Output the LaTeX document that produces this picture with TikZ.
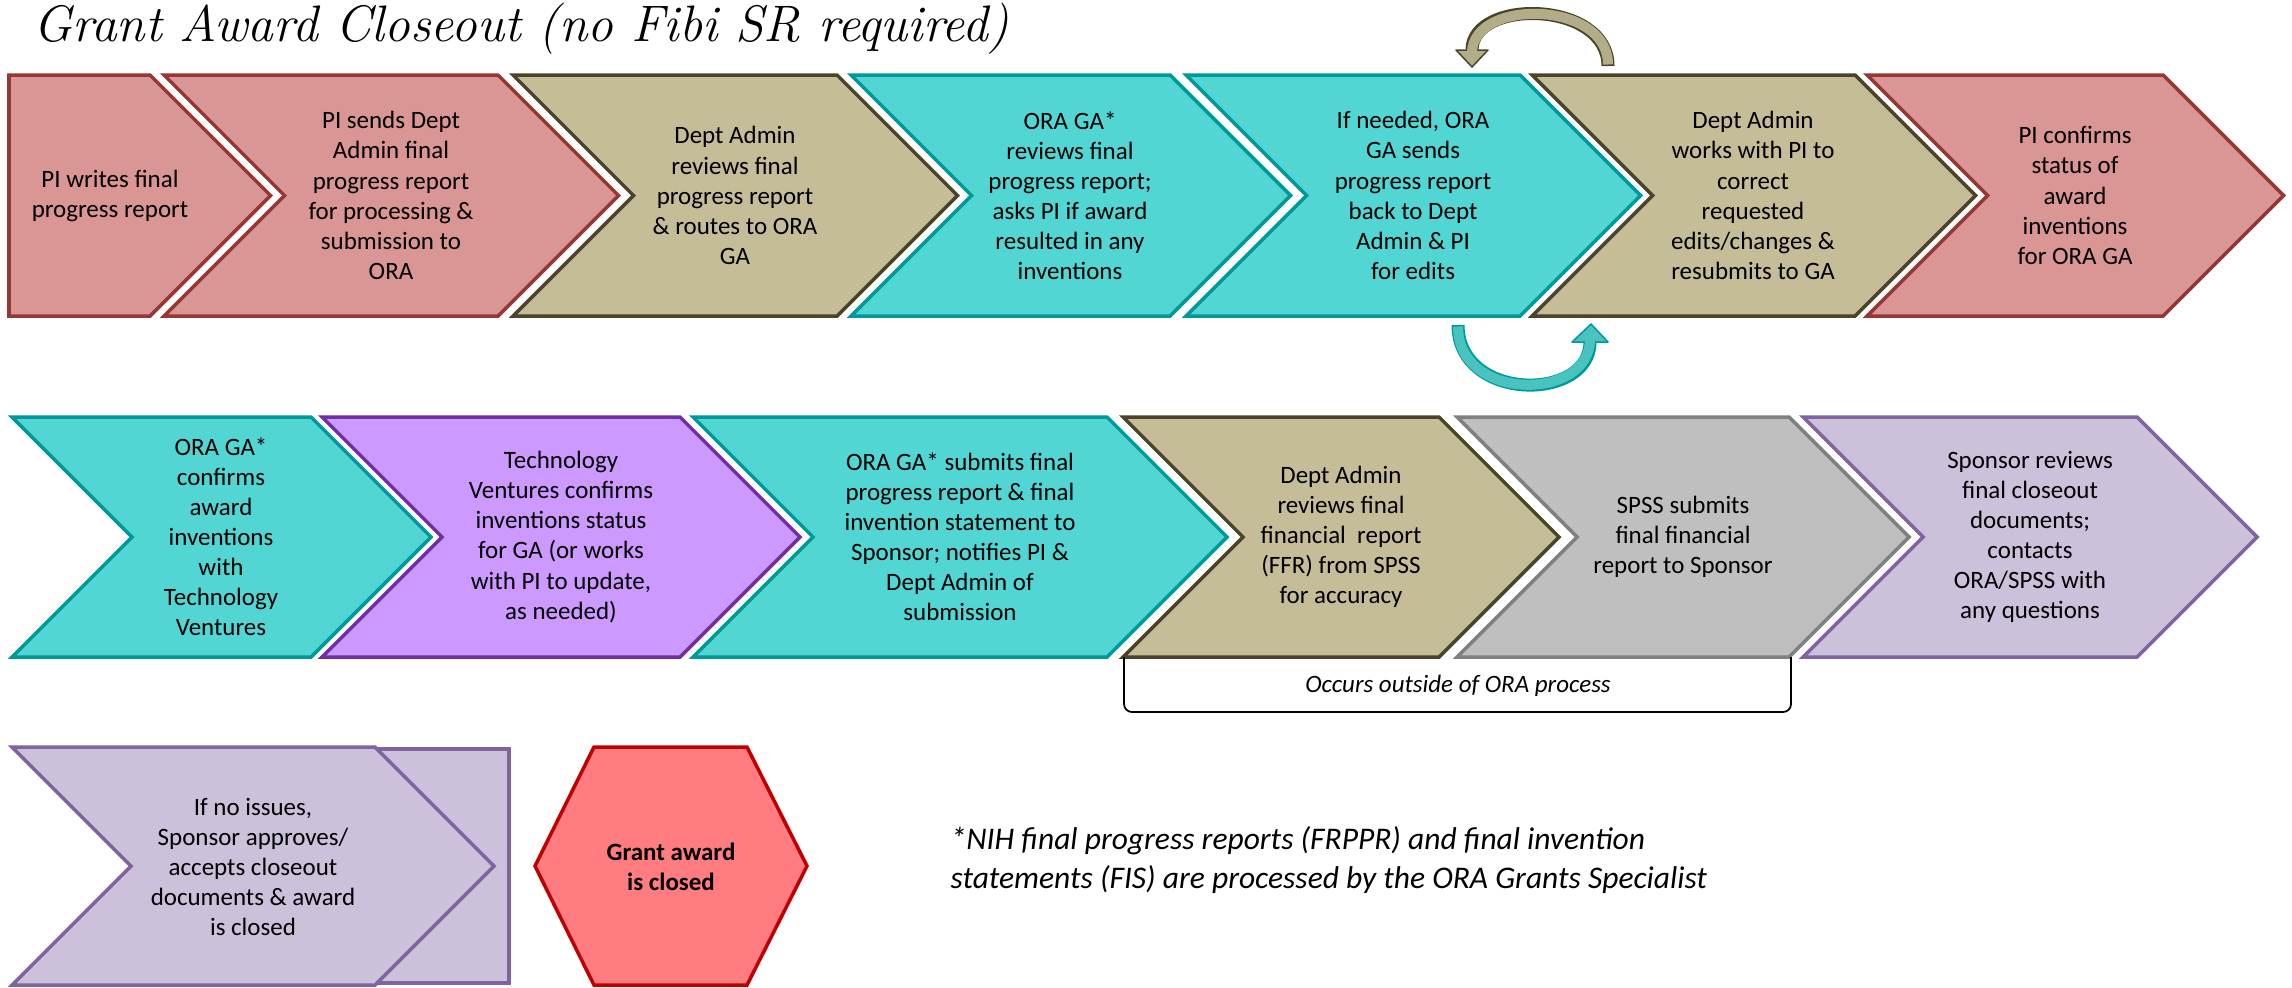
\documentclass[tikz,border=0pt]{standalone}
\usepackage{fontspec}
\newfontfamily\bodyfont{Carlito}
\usepackage{tikz}
\usetikzlibrary{arrows.meta}

\definecolor{pinkfill}{HTML}{D99694}
\definecolor{pinkline}{HTML}{953735}
\definecolor{tanfill}{HTML}{C4BD97}
\definecolor{tanline}{HTML}{4A452A}
\definecolor{tanloop}{HTML}{B3AC88}
\definecolor{tealfill}{HTML}{52D6D3}
\definecolor{tealline}{HTML}{009999}
\definecolor{tealloop}{HTML}{48C3BF}
\definecolor{violetfill}{HTML}{CC99FF}
\definecolor{violetline}{HTML}{7030A0}
\definecolor{greyfill}{HTML}{BFBFBF}
\definecolor{greyline}{HTML}{808080}
\definecolor{lavfill}{HTML}{CCC1DA}
\definecolor{lavline}{HTML}{8064A2}
\definecolor{hexfill}{HTML}{FF7C80}
\definecolor{hexline}{HTML}{C00000}

\tikzset{
  chevtext/.style={align=center, inner sep=0pt, font=\bodyfont\fontsize{7.1}{8.55}\selectfont},
  pinkchev/.style={fill=pinkfill, draw=pinkline, line width=1pt},
  tanchev/.style={fill=tanfill, draw=tanline, line width=1pt},
  tealchev/.style={fill=tealfill, draw=tealline, line width=1pt},
  violetchev/.style={fill=violetfill, draw=violetline, line width=1pt},
  greychev/.style={fill=greyfill, draw=greyline, line width=1pt},
  lavchev/.style={fill=lavfill, draw=lavline, line width=1pt},
  loopout/.style={line width=1.3mm},
  loopin/.style={line width=1.0mm, shorten <=0.15mm, shorten >=-0.3mm},
  loophead/.style={line width=0.15mm, line join=round},
}

\begin{document}
\begin{tikzpicture}[x=0.01cm, y=-0.01cm]
	\useasboundingbox (0,0) rectangle (2292,987);
	\node [](title_node) at (33,41) [anchor=base west, inner sep=0pt, font=\fontsize{14.6}{17}\selectfont\itshape]{Grant Award Closeout (no Fibi SR required)};
	% first row
	\draw [pinkchev] (9,75) -- (150,75) -- (270.5,195.5) -- (150,316) -- (9,316) -- cycle;
	\draw [pinkchev] (164,75) -- (498,75) -- (618.5,195.5) -- (498,316) -- (164,316) -- (284.5,195.5) -- cycle;
	\draw [tanchev] (513,75) -- (837,75) -- (957.5,195.5) -- (837,316) -- (513,316) -- (633.5,195.5) -- cycle;
	\draw [tealchev] (851,75) -- (1170,75) -- (1290.5,195.5) -- (1170,316) -- (851,316) -- (971.5,195.5) -- cycle;
	\draw [tealchev] (1186,75) -- (1520,75) -- (1640.5,195.5) -- (1520,316) -- (1186,316) -- (1306.5,195.5) -- cycle;
	\draw [tanchev] (1532,75) -- (1855,75) -- (1975.5,195.5) -- (1855,316) -- (1532,316) -- (1652.5,195.5) -- cycle;
	\draw [pinkchev] (1867,75) -- (2163,75) -- (2283.5,195.5) -- (2163,316) -- (1867,316) -- (1987.5,195.5) -- cycle;
	\node [chevtext](write_node) at (110,195.5){PI writes final\\progress report};
	\node [chevtext](send_node) at (391,195.5){PI sends Dept\\Admin final\\progress report\\for processing \&\\submission to\\ORA};
	\node [chevtext](route_node) at (735,195.5){Dept Admin\\reviews final\\progress report\\\& routes to ORA\\GA};
	\node [chevtext](review_node) at (1070,195.5){ORA GA*\\reviews final\\progress report;\\asks PI if award\\resulted in any\\inventions};
	\node [chevtext](sendback_node) at (1413,195.5){If needed, ORA\\GA sends\\progress report\\back to Dept\\Admin \& PI\\for edits};
	\node [chevtext](correct_node) at (1753,195.5){Dept Admin\\works with PI to\\correct\\requested\\edits/changes \&\\resubmits to GA};
	\node [chevtext](confirm_node) at (2075,195.5){PI confirms\\status of\\award\\inventions\\for ORA GA};
	% loop between sendback and correct
	\coordinate (fixtail_top) at (1608,66);
	\coordinate (fixhead_top) at (1472,50);
	\draw [loopout, tanline] (fixtail_top) .. controls (1608,0) and (1472,-2) .. (fixhead_top);
	\filldraw [loophead, fill=tanloop, draw=tanline] (1456,50) -- (1472,67) -- (1488,50) -- cycle;
	\draw [loopin, tanloop] (fixtail_top) .. controls (1608,0) and (1472,-2) .. (fixhead_top);
	\coordinate (fixtail_bot) at (1458,325);
	\coordinate (fixhead_bot) at (1590,342);
	\draw [loopout, tealline] (fixtail_bot) .. controls (1458,402) and (1590,402) .. (fixhead_bot);
	\filldraw [loophead, fill=tealloop, draw=tealline] (1572,342) -- (1591,324) -- (1608,342) -- cycle;
	\draw [loopin, tealloop] (fixtail_bot) .. controls (1458,402) and (1590,402) .. (fixhead_bot);
	% second row
	\draw [tealchev] (12,417) -- (311,417) -- (431,537) -- (311,657) -- (12,657) -- (132,537) -- cycle;
	\draw [violetchev] (322,417) -- (680,417) -- (800,537) -- (680,657) -- (322,657) -- (442,537) -- cycle;
	\draw [tealchev] (693,417) -- (1107,417) -- (1227,537) -- (1107,657) -- (693,657) -- (813,537) -- cycle;
	\draw [tanchev] (1123,417) -- (1439,417) -- (1559,537) -- (1439,657) -- (1123,657) -- (1243,537) -- cycle;
	\draw [greychev] (1457,417) -- (1789,417) -- (1909,537) -- (1789,657) -- (1457,657) -- (1577,537) -- cycle;
	\draw [lavchev] (1803,417) -- (2137,417) -- (2257,537) -- (2137,657) -- (1803,657) -- (1923,537) -- cycle;
	\node [chevtext](gaconfirm_node) at (221,537){ORA GA*\\confirms\\award\\inventions\\with\\Technology\\Ventures};
	\node [chevtext](techvent_node) at (561,537){Technology\\Ventures confirms\\inventions status\\for GA (or works\\with PI to update,\\as needed)};
	\node [chevtext](submit_node) at (960,537){ORA GA* submits final\\progress report \& final\\invention statement to\\Sponsor; notifies PI \&\\Dept Admin of\\submission};
	\node [chevtext](ffr_node) at (1341,537){Dept Admin\\reviews final\\financial~ report\\(FFR) from SPSS\\for accuracy};
	\node [chevtext](spss_node) at (1683,537){SPSS submits\\final financial\\report to Sponsor};
	\node [chevtext](sponsor_node) at (2030,537){Sponsor reviews\\final closeout\\documents;\\contacts\\ORA/SPSS with\\any questions};
	\coordinate (outside_left) at (1124,657);
	\coordinate (outside_bottom) at (1458,712);
	\coordinate (outside_right) at (1791,657);
	\draw [line width=0.5pt, rounded corners=0.8mm] (outside_left) |- (outside_bottom) -| (outside_right);
	\node [chevtext, font=\bodyfont\itshape\fontsize{7.1}{8.55}\selectfont](outside_node) at (1458,686){Occurs outside of ORA process};
	% third row
	\draw [lavchev] (300,749) rectangle (509,983);
	\draw [lavchev] (12,747) -- (375,747) -- (494,866) -- (375,985) -- (12,985) -- (131,866) -- cycle;
	\node [chevtext](approve_node) at (253,867){If no issues,\\Sponsor approves/\\accepts closeout\\documents \& award\\is closed};
	\draw [fill=hexfill, draw=hexline, line width=1pt] (535,866) -- (594,747) -- (747,747) -- (807,866) -- (747,985) -- (594,985) -- cycle;
	\node [chevtext, font=\bodyfont\bfseries\fontsize{7.1}{8.55}\selectfont](closed_node) at (671,867){Grant award\\is closed};
	\node [](note_node) at (950,860) [anchor=west, align=left, inner sep=0pt, font=\bodyfont\itshape\fontsize{8.96}{11.1}\selectfont]{*NIH final progress reports (FRPPR) and final invention\\statements (FIS) are processed by the ORA Grants Specialist};
\end{tikzpicture}
\end{document}
